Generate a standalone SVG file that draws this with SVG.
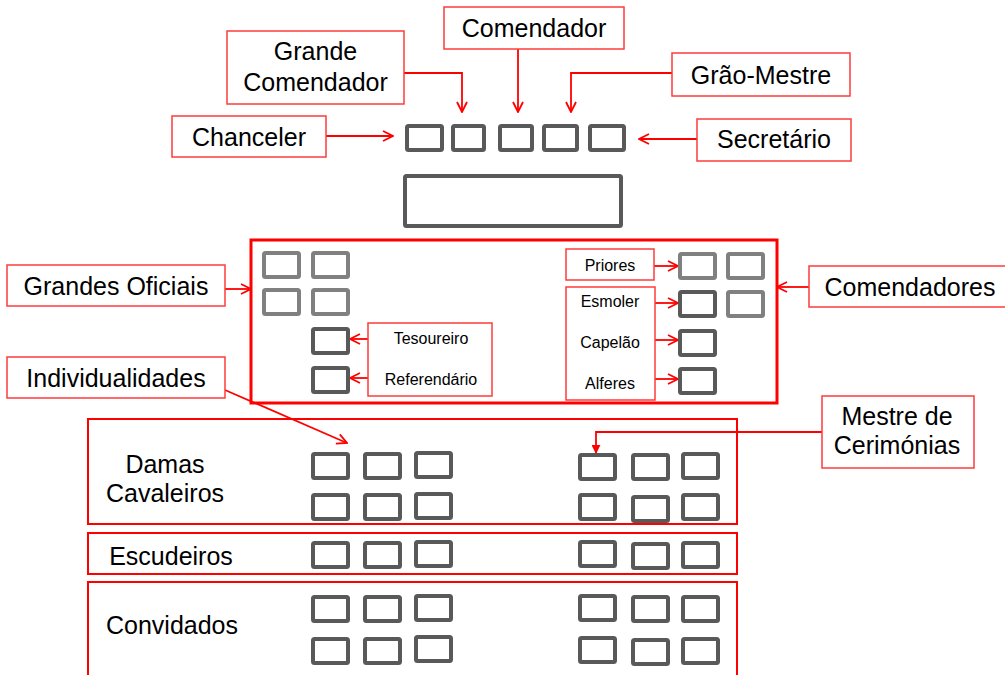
<svg xmlns="http://www.w3.org/2000/svg" width="1005" height="675" viewBox="0 0 1005 675">
<style>
.lbl{fill:#fff;stroke:#ff3b3b;stroke-width:1.5}
.t{font-family:"Liberation Sans",Arial,sans-serif;font-size:25px;fill:#000;text-anchor:middle}
.s{font-family:"Liberation Sans",Arial,sans-serif;font-size:16px;fill:#000;text-anchor:middle}
.d{fill:#fff;stroke:#595959;stroke-width:4}
.l{fill:#fff;stroke:#808080;stroke-width:4}
.c{fill:none;stroke:#ff0000;stroke-width:1.8}
.sec{fill:none;stroke:#ff0000;stroke-width:2}
</style>
<defs>
<marker id="a" viewBox="0 0 12 12" refX="11" refY="6" markerWidth="12" markerHeight="12" markerUnits="userSpaceOnUse" orient="auto">
<path d="M1,1 L11,6 L1,11" fill="none" stroke="#ff0000" stroke-width="1.8"/>
</marker>
<marker id="f" viewBox="0 0 10 10" refX="9" refY="5" markerWidth="9" markerHeight="9" markerUnits="userSpaceOnUse" orient="auto">
<path d="M0,0 L10,5 L0,10 Z" fill="#ff0000"/>
</marker>
</defs>

<g id="sections">
<rect x="251" y="240" width="526" height="163" fill="none" stroke="#ff0000" stroke-width="3"/>
<rect class="sec" x="88" y="419" width="649" height="105"/>
<rect class="sec" x="88" y="533" width="649" height="41"/>
<path class="sec" d="M88,676 V582 H737 V676"/>
</g>

<g id="connectors">
<path class="c" d="M404,73 H462 V112" marker-end="url(#a)"/>
<path class="c" d="M518,49 V112" marker-end="url(#a)"/>
<path class="c" d="M672,73 H571 V112" marker-end="url(#a)"/>
<path class="c" d="M326,136 H393" marker-end="url(#a)"/>
<path class="c" d="M697,139 H639" marker-end="url(#a)"/>
<path class="c" d="M225,289 H251" marker-end="url(#a)"/>
<path class="c" d="M809,287 H777" marker-end="url(#a)"/>
<path class="c" d="M225,390 L347,443" marker-end="url(#a)"/>
<path class="c" d="M368,339 H350" marker-end="url(#a)"/>
<path class="c" d="M368,378 H350" marker-end="url(#a)"/>
<path class="c" d="M654,266 H678" marker-end="url(#a)"/>
<path class="c" d="M655,303 H678" marker-end="url(#a)"/>
<path class="c" d="M655,340 H678" marker-end="url(#a)"/>
<path class="c" d="M655,379 H678" marker-end="url(#a)"/>
<path class="c" d="M822,432 H596 V453" marker-end="url(#f)"/>
</g>

<g id="grande-comendador"><rect class="lbl" x="227" y="31" width="177" height="73"/><text class="t" x="315.5" y="60">Grande</text><text class="t" x="315.5" y="91">Comendador</text></g>
<g id="comendador"><rect class="lbl" x="444" y="7" width="180" height="42"/><text class="t" x="534" y="37">Comendador</text></g>
<g id="grao-mestre"><rect class="lbl" x="672" y="53" width="178" height="43"/><text class="t" x="761" y="84">Grão-Mestre</text></g>
<g id="chanceler"><rect class="lbl" x="172" y="116" width="154" height="41"/><text class="t" x="249" y="146">Chanceler</text></g>
<g id="secretario"><rect class="lbl" x="697" y="119" width="154" height="42"/><text class="t" x="774" y="148">Secretário</text></g>
<g id="grandes-oficiais"><rect class="lbl" x="7" y="265" width="218" height="41"/><text class="t" x="116" y="295">Grandes Oficiais</text></g>
<g id="individualidades"><rect class="lbl" x="7" y="357" width="218" height="41"/><text class="t" x="116" y="387">Individualidades</text></g>
<g id="comendadores"><rect class="lbl" x="809" y="266" width="200" height="41"/><text class="t" x="910" y="296">Comendadores</text></g>
<g id="mestre-cerimonias"><rect class="lbl" x="822" y="396" width="152" height="72"/><text class="t" x="897" y="425">Mestre de</text><text class="t" x="897" y="454">Cerimónias</text></g>
<g id="tesoureiro-referendario"><rect class="lbl" x="368" y="323" width="124" height="73"/><text class="s" x="431" y="344">Tesoureiro</text><text class="s" x="431" y="385">Referendário</text></g>
<g id="priores"><rect class="lbl" x="566" y="249" width="88" height="31"/><text class="s" x="610" y="271">Priores</text></g>
<g id="esmoler-capelao-alferes"><rect class="lbl" x="566" y="287" width="89" height="113"/><text class="s" x="610" y="307">Esmoler</text><text class="s" x="610" y="348">Capelão</text><text class="s" x="610" y="389">Alferes</text></g>

<g id="damas-cavaleiros-label"><text class="t" x="165" y="473">Damas</text><text class="t" x="165" y="502">Cavaleiros</text></g>
<g id="escudeiros-label"><text class="t" x="171" y="565">Escudeiros</text></g>
<g id="convidados-label"><text class="t" x="172" y="634">Convidados</text></g>

<g id="top-seats">
<rect class="d" x="407" y="126" width="35" height="24" rx="1.5"/>
<rect class="d" x="453" y="126" width="31" height="24" rx="1.5"/>
<rect class="d" x="500" y="126" width="32" height="24" rx="1.5"/>
<rect class="d" x="544" y="126" width="33" height="24" rx="1.5"/>
<rect class="d" x="590" y="126" width="34" height="24" rx="1.5"/>
</g>
<g id="podium"><rect class="d" x="405" y="176" width="216" height="50" rx="1.5"/></g>

<g id="grandes-oficiais-seats">
<rect class="l" x="264" y="253" width="35" height="24" rx="1.5"/>
<rect class="l" x="313" y="253" width="35" height="24" rx="1.5"/>
<rect class="l" x="264" y="290" width="35" height="24" rx="1.5"/>
<rect class="l" x="313" y="290" width="35" height="24" rx="1.5"/>
<rect class="d" x="313" y="329" width="35" height="24" rx="1.5"/>
<rect class="d" x="313" y="368" width="35" height="24" rx="1.5"/>
</g>
<g id="comendadores-seats">
<rect class="l" x="680" y="254" width="35" height="24" rx="1.5"/>
<rect class="l" x="728" y="254" width="35" height="24" rx="1.5"/>
<rect class="d" x="680" y="292" width="35" height="24" rx="1.5"/>
<rect class="l" x="728" y="292" width="35" height="24" rx="1.5"/>
<rect class="d" x="680" y="331" width="35" height="24" rx="1.5"/>
<rect class="d" x="680" y="369" width="35" height="24" rx="1.5"/>
</g>

<g id="damas-cavaleiros-seats">
<rect class="d" x="313" y="454" width="35" height="24" rx="1.5"/>
<rect class="d" x="365" y="454" width="35" height="24" rx="1.5"/>
<rect class="d" x="416" y="453" width="35" height="24" rx="1.5"/>
<rect class="d" x="313" y="495" width="35" height="24" rx="1.5"/>
<rect class="d" x="365" y="495" width="35" height="24" rx="1.5"/>
<rect class="d" x="416" y="494" width="35" height="24" rx="1.5"/>
<rect class="d" x="580" y="455" width="35" height="24" rx="1.5"/>
<rect class="d" x="633" y="455" width="35" height="24" rx="1.5"/>
<rect class="d" x="683" y="454" width="35" height="24" rx="1.5"/>
<rect class="d" x="580" y="495" width="35" height="24" rx="1.5"/>
<rect class="d" x="633" y="497" width="35" height="24" rx="1.5"/>
<rect class="d" x="683" y="495" width="35" height="24" rx="1.5"/>
</g>
<g id="escudeiros-seats">
<rect class="d" x="313" y="543" width="35" height="24" rx="1.5"/>
<rect class="d" x="365" y="543" width="35" height="24" rx="1.5"/>
<rect class="d" x="416" y="542" width="35" height="24" rx="1.5"/>
<rect class="d" x="580" y="542" width="35" height="24" rx="1.5"/>
<rect class="d" x="633" y="544" width="35" height="24" rx="1.5"/>
<rect class="d" x="683" y="543" width="35" height="24" rx="1.5"/>
</g>
<g id="convidados-seats">
<rect class="d" x="313" y="597" width="35" height="24" rx="1.5"/>
<rect class="d" x="365" y="597" width="35" height="24" rx="1.5"/>
<rect class="d" x="416" y="596" width="35" height="24" rx="1.5"/>
<rect class="d" x="313" y="639" width="35" height="24" rx="1.5"/>
<rect class="d" x="365" y="639" width="35" height="24" rx="1.5"/>
<rect class="d" x="416" y="637" width="35" height="24" rx="1.5"/>
<rect class="d" x="580" y="596" width="35" height="24" rx="1.5"/>
<rect class="d" x="633" y="597" width="35" height="24" rx="1.5"/>
<rect class="d" x="683" y="597" width="35" height="24" rx="1.5"/>
<rect class="d" x="580" y="638" width="35" height="24" rx="1.5"/>
<rect class="d" x="633" y="640" width="35" height="24" rx="1.5"/>
<rect class="d" x="683" y="639" width="35" height="24" rx="1.5"/>
</g>
</svg>
